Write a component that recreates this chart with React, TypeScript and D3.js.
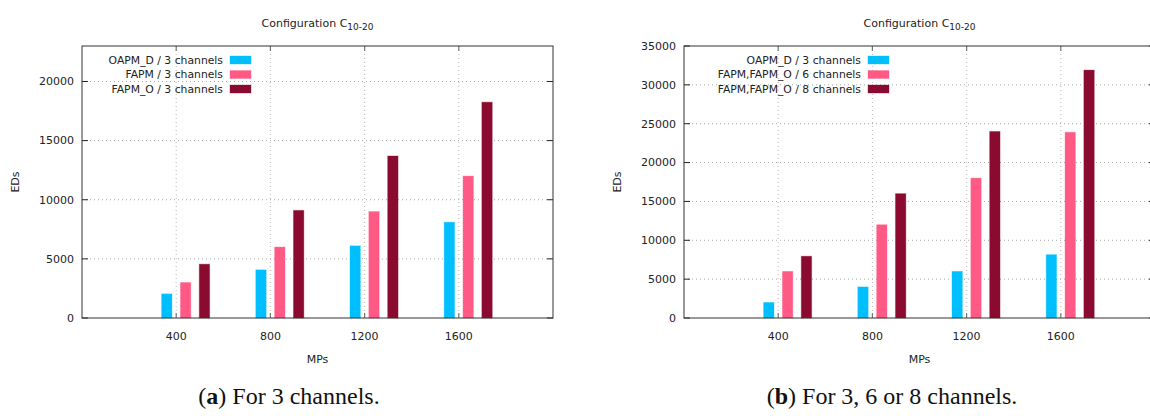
import React from "react";
import * as d3 from "d3";

const categories = ["400", "800", "1200", "1600"];

// Chart (a)
const leftLabels = ["OAPM_D / 3 channels", "FAPM / 3 channels", "FAPM_O / 3 channels"];
const leftOAPM_D = [2040, 4070, 6100, 8100];
const leftFAPM = [3000, 6000, 9000, 12000];
const leftFAPM_O = [4550, 9100, 13700, 18250];
const leftYTicks = [0, 5000, 10000, 15000, 20000];

// Chart (b)
const rightLabels = ["OAPM_D / 3 channels", "FAPM,FAPM_O / 6 channels", "FAPM,FAPM_O / 8 channels"];
const rightOAPM_D = [2000, 4000, 6000, 8150];
const rightFAPM6 = [6000, 12000, 18000, 23900];
const rightFAPM8 = [7950, 16000, 24000, 31900];
const rightYTicks = [0, 5000, 10000, 15000, 20000, 25000, 30000, 35000];

const colors = ["#00bfff", "#ff5a85", "#8b0a2f"];
const offsets = [-0.1, 0.1, 0.3];
const barW = 0.11;

type ChartProps = {
  x0: number;
  x1: number;
  ymax: number;
  yticks: number[];
  labels: string[];
  series: number[][];
  legendTextX: number;
  caption: string;
  captionText: string;
  captionX: number;
};

function Chart(p: ChartProps) {
  const top = 46;
  const bottom = 318;
  const x = d3.scaleLinear().domain([0, categories.length + 1]).range([p.x0, p.x1]);
  const y = d3.scaleLinear().domain([0, p.ymax]).range([bottom, top]);
  const font = "DejaVu Sans, sans-serif";
  const cx = (p.x0 + p.x1) / 2;
  return (
    <g>
      <text x={cx} y={27} textAnchor="middle" fontFamily={font} fontSize={11} fill="#222">
        Configuration C
        <tspan fontSize={9} dy={3}>10-20</tspan>
      </text>
      {p.yticks.filter((t) => t > 0 && y(t) > top + 1).map((t) => (
        <line key={"gy" + t} x1={p.x0} x2={p.x1} y1={y(t)} y2={y(t)} stroke="#a8a8a8" strokeWidth={1} strokeDasharray="1,3" />
      ))}
      {categories.map((c, i) => (
        <line key={"gx" + c} x1={x(i + 1)} x2={x(i + 1)} y1={top} y2={bottom} stroke="#b8b8b8" strokeWidth={1} strokeDasharray="1,3" />
      ))}
      {p.series.map((s, si) =>
        s.map((v, i) => {
          const bx = x(i + 1 + offsets[si] - barW / 2);
          const bw = x(barW) - x(0);
          return (
            <rect key={si + "-" + i} x={bx} y={y(v)} width={bw} height={bottom - y(v)} fill={colors[si]} stroke={colors[si]} strokeOpacity={0.35} strokeWidth={1} />
          );
        })
      )}
      {p.labels.map((l, i) => (
        <g key={l}>
          <text x={p.legendTextX} y={60 + i * 14.5} dy="0.35em" textAnchor="end" fontFamily={font} fontSize={10.8} fill="#222">
            {l}
          </text>
          <rect x={p.legendTextX + 7} y={60 + i * 14.5 - 4} width={21} height={8} fill={colors[i]} stroke={colors[i]} strokeOpacity={0.35} />
        </g>
      ))}
      {p.yticks.map((t) => (
        <g key={"ty" + t}>
          <line x1={p.x0} x2={p.x0 + 6} y1={y(t)} y2={y(t)} stroke="#222" />
          <line x1={p.x1 - 6} x2={p.x1} y1={y(t)} y2={y(t)} stroke="#222" />
          <text x={p.x0 - 8} y={y(t)} dy="0.35em" textAnchor="end" fontFamily={font} fontSize={11} fill="#222">
            {t}
          </text>
        </g>
      ))}
      {categories.map((c, i) => (
        <g key={"tx" + c}>
          <line x1={x(i + 1)} x2={x(i + 1)} y1={bottom} y2={bottom - 5} stroke="#777" strokeWidth={1.2} />
          <line x1={x(i + 1)} x2={x(i + 1)} y1={top} y2={top + 5} stroke="#777" strokeWidth={1.2} />
          <text x={x(i + 1)} y={340} textAnchor="middle" fontFamily={font} fontSize={11} fill="#222">
            {c}
          </text>
        </g>
      ))}
      <rect x={p.x0} y={top} width={p.x1 - p.x0} height={bottom - top} fill="none" stroke="#333" strokeWidth={1} />
      <text transform={`translate(${p.x0 - 63},${(top + bottom) / 2}) rotate(-90)`} textAnchor="middle" fontFamily={font} fontSize={11} fill="#222">
        EDs
      </text>
      <text x={cx} y={363} textAnchor="middle" fontFamily={font} fontSize={11} fill="#222">
        MPs
      </text>
      <text x={p.captionX} y={404} textAnchor="middle" fontFamily="Liberation Serif, serif" fontSize={24} fill="#111">
        (<tspan fontWeight="bold">{p.caption}</tspan>){p.captionText}
      </text>
    </g>
  );
}

export default function App() {
  return (
    <div style={{ position: "absolute", left: 0, top: 0 }}>
      <svg width={1150} height={416} style={{ display: "block", background: "#fff" }}>
        <Chart x0={82} x1={553} ymax={23000} yticks={leftYTicks} labels={leftLabels}
          series={[leftOAPM_D, leftFAPM, leftFAPM_O]} legendTextX={223} caption="a" captionText=" For 3 channels." captionX={289} />
        <Chart x0={684} x1={1155} ymax={35000} yticks={rightYTicks} labels={rightLabels}
          series={[rightOAPM_D, rightFAPM6, rightFAPM8]} legendTextX={861} caption="b" captionText=" For 3, 6 or 8 channels." captionX={892} />
      </svg>
    </div>
  );
}
